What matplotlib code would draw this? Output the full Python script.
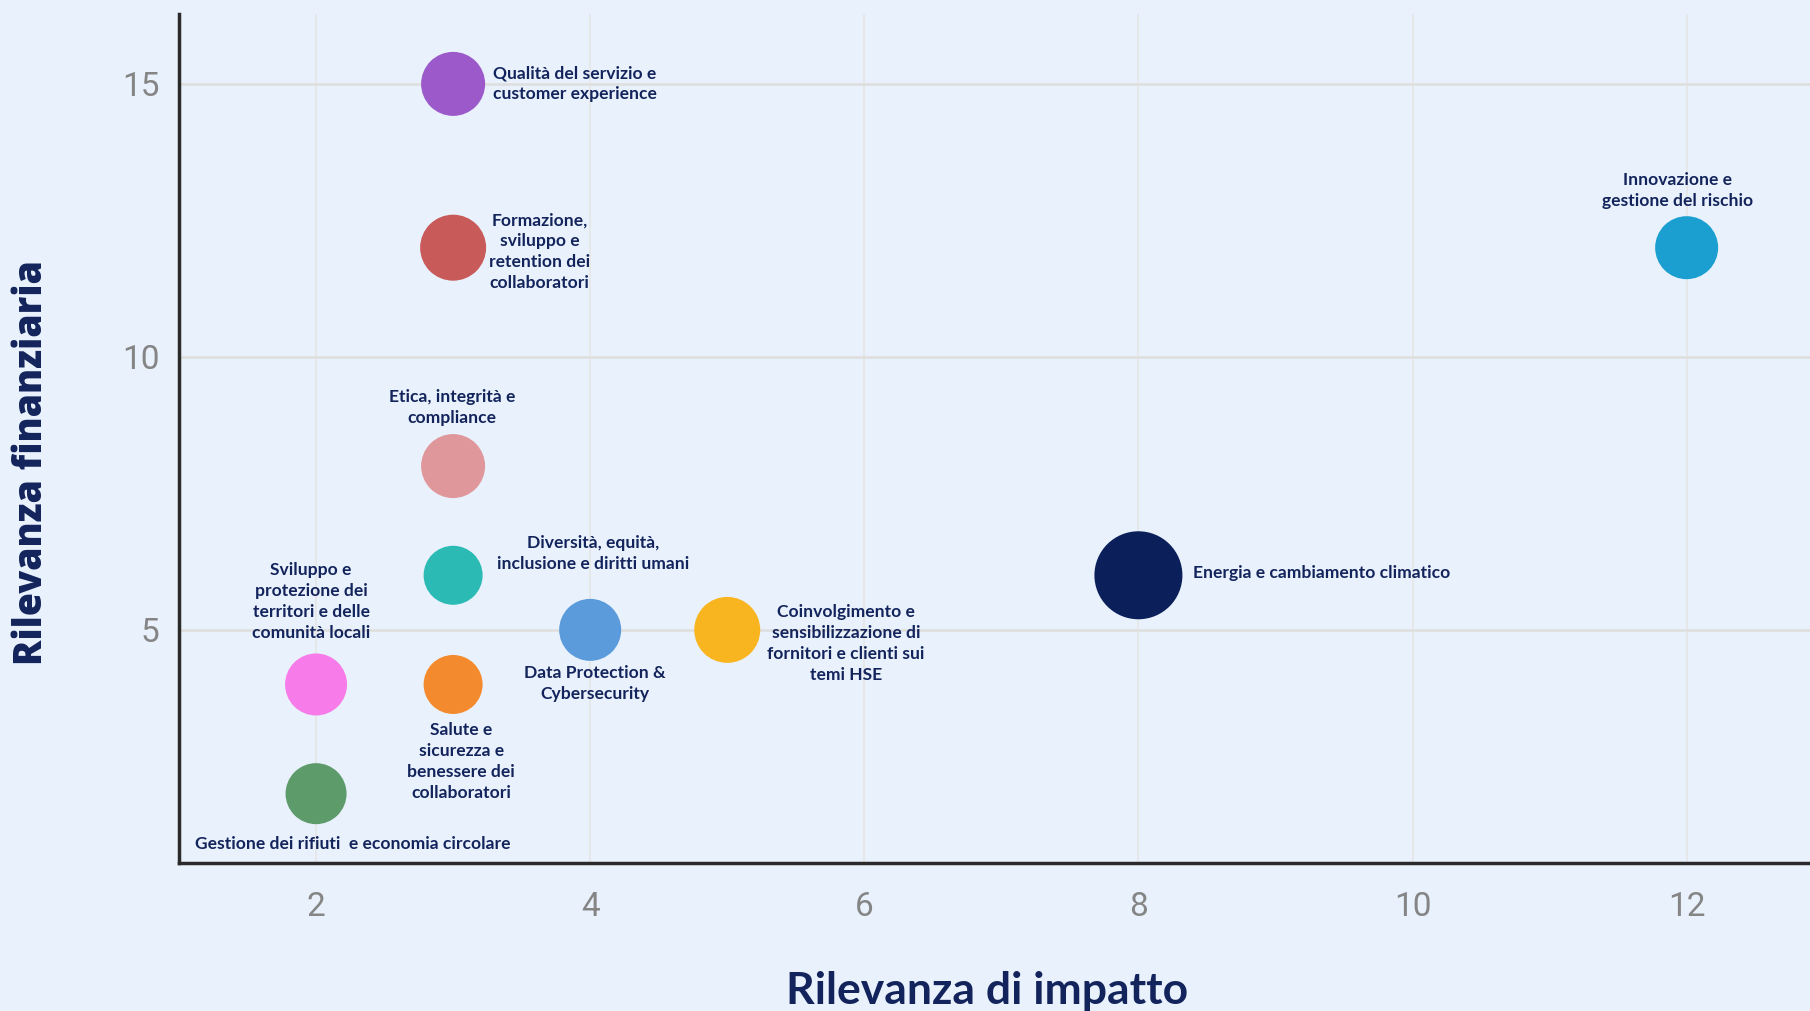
import matplotlib
matplotlib.use("Agg")
import matplotlib.pyplot as plt

# ---------------- data ----------------
topics = [
    "Qualità del servizio e\ncustomer experience",
    "Formazione,\nsviluppo e\nretention dei\ncollaboratori",
    "Etica, integrità e\ncompliance",
    "Diversità, equità,\ninclusione e diritti umani",
    "Salute e\nsicurezza e\nbenessere dei\ncollaboratori",
    "Sviluppo e\nprotezione dei\nterritori e delle\ncomunità locali",
    "Gestione dei rifiuti  e economia circolare",
    "Data Protection &\nCybersecurity",
    "Coinvolgimento e\nsensibilizzazione di\nfornitori e clienti sui\ntemi HSE",
    "Energia e cambiamento climatico",
    "Innovazione e\ngestione del rischio",
]
rilevanza_impatto = [3, 3, 3, 3, 3, 2, 2, 4, 5, 8, 12]
rilevanza_finanziaria = [15, 12, 8, 6, 4, 4, 2, 5, 5, 6, 12]
bubble_size = [64, 66, 64, 59, 59, 62, 61, 62, 66, 88, 63]

x_ticks = [2, 4, 6, 8, 10, 12]
y_ticks = [5, 10, 15]

# ---------------- style ----------------
colors = ["#9B59C9", "#C85A5A", "#E0979B", "#2BBAB4", "#F48A2E", "#F77BE8",
          "#5E9B6A", "#5B9BDB", "#F9B520", "#0B1F5A", "#1A9FD0"]
# label placement: (dx px, dy px, ha)
label_pos = [
    (40, 0, "left"),
    (36, -4, "left"),
    (-1, 59, "center"),
    (44, 22, "left"),
    (8, -77, "center"),
    (-5, 83, "center"),
    (37, -50, "center"),
    (5, -54, "center"),
    (40, -14, "left"),
    (55, 2, "left"),
    (-9, 57, "center"),
]
BG = "#E9F2FC"
NAVY = "#13245C"
W, H = 1810, 1011

fig = plt.figure(figsize=(W / 100, H / 100), dpi=100, facecolor=BG)
ax = fig.add_axes([179 / W, 1 - 863 / H, 1 - 179 / W, (863 - 14) / H])
ax.set_facecolor(BG)

sizes = [(d * 0.72) ** 2 for d in bubble_size]
ax.scatter(rilevanza_impatto, rilevanza_finanziaria, s=sizes, c=colors,
           linewidths=0, zorder=3)

for t, x, y, (dx, dy, ha) in zip(topics, rilevanza_impatto, rilevanza_finanziaria, label_pos):
    ax.annotate(t, (x, y), xytext=(dx, dy), textcoords="offset pixels",
                ha=ha, va="center", multialignment="center",
                fontsize=12.6, fontweight="bold", family=["Lato", "DejaVu Sans"],
                color=NAVY, linespacing=1.38, zorder=4)

ax.set_xlim(1, 12.9)
ax.set_ylim(0.73, 16.28)
ax.set_xticks(x_ticks)
ax.set_yticks(y_ticks)
ax.tick_params(length=0, labelsize=24, labelcolor="#858585")
ax.tick_params(axis="x", pad=20)
ax.tick_params(axis="y", pad=14)
for lab in ax.get_xticklabels() + ax.get_yticklabels():
    lab.set_family(["Roboto", "DejaVu Sans"])
    lab.set_fontweight("normal")

ax.grid(True, axis="y", color="#DFDFDF", linewidth=2.0, zorder=0)
ax.grid(True, axis="x", color="#E4E4E4", linewidth=1.1, zorder=0)
ax.set_axisbelow(True)
for s in ["top", "right"]:
    ax.spines[s].set_visible(False)
for s in ["left", "bottom"]:
    ax.spines[s].set_color("#2A2A2A")
    ax.spines[s].set_linewidth(2.5)

fig.text(987 / W, 1 - 1004 / H, "Rilevanza di impatto", ha="center", va="baseline",
         fontsize=32, fontweight="bold", family=["Lato", "DejaVu Sans"], color=NAVY)
fig.text(32 / W, 1 - 463 / H, "Rilevanza finanziaria", ha="center", va="center",
         rotation=90, fontsize=27, fontweight="heavy",
         family=["Open Sans", "DejaVu Sans"], color=NAVY)

fig.savefig("out.png", dpi=100, facecolor=BG)
